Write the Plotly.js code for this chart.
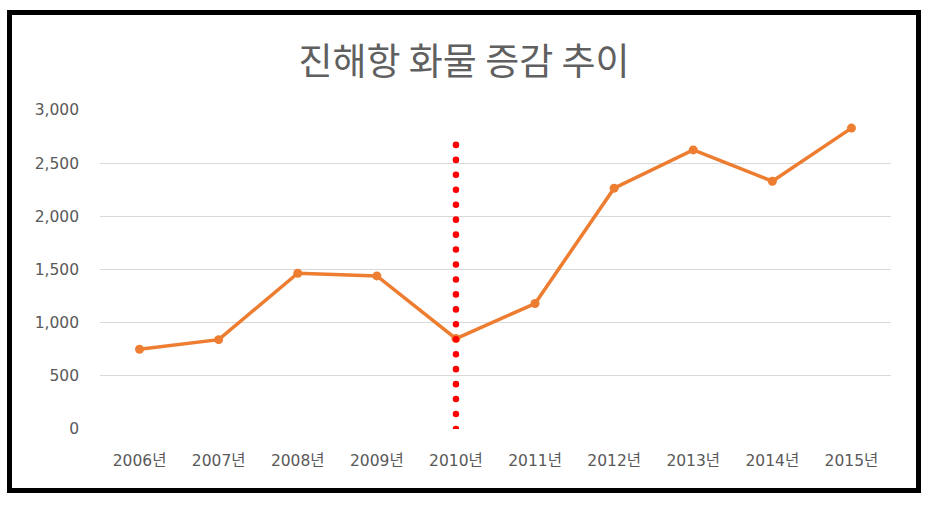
<!DOCTYPE html>
<html>
<head>
<meta charset="utf-8">
<script src="https://cdn.plot.ly/plotly-3.0.1.min.js"></script>
<style>
html,body{margin:0;padding:0;background:#fff;width:934px;height:511px;overflow:hidden;}
#frame{position:absolute;left:7px;top:10px;width:904px;height:473px;border:5px solid #000;background:#fff;}
#chart{width:904px;height:473px;}
</style>
</head>
<body>
<div id="frame"><div id="chart"></div></div>
<script>
const categories = ['2006년','2007년','2008년','2009년','2010년','2011년','2012년','2013년','2014년','2015년'];
const cargo = [750, 840, 1465, 1440, 850, 1180, 2265, 2625, 2330, 2830];
const yTicks = [0, 500, 1000, 1500, 2000, 2500, 3000];
const markerCategory = '2010년';
const markerTop = 2700;
const titleText = '진해항 화물 증감 추이';

const cjk = '"Noto Sans CJK KR", "Noto Sans", sans-serif';
const tickFontFamily = '"DejaVu Sans", "Noto Sans CJK KR", sans-serif';

const trace = {
  x: categories,
  y: cargo,
  type: 'scatter',
  mode: 'lines+markers',
  line: {color: '#ED7D31', width: 3.5},
  marker: {color: '#ED7D31', size: 9},
  hoverinfo: 'x+y',
  showlegend: false
};

const layout = {
  width: 904, height: 473,
  margin: {l: 88, r: 25, t: 95, b: 59},
  paper_bgcolor: '#fff', plot_bgcolor: '#fff',
  title: {text: titleText, font: {family: cjk, size: 37, color: '#606060'}, x: 0.5, xanchor: 'center', y: 0.9, yanchor: 'middle'},
  xaxis: {
    type: 'category', range: [-0.5, 9.5],
    tickfont: {family: tickFontFamily, size: 15.5, color: '#595959'},
    showgrid: false, showline: false, ticks: '', zeroline: false, fixedrange: true,
    ticklabelstandoff: 20
  },
  yaxis: {
    range: [0, 3000], tickvals: yTicks, tickformat: ',',
    tickfont: {family: tickFontFamily, size: 15.5, color: '#595959'},
    showgrid: true, gridcolor: '#D9D9D9', gridwidth: 1, zeroline: false,
    showline: false, ticks: '', ticklen: 0, ticklabelstandoff: 20, fixedrange: true
  },
  shapes: [{
    type: 'line', xref: 'x', yref: 'y',
    x0: markerCategory, x1: markerCategory, y0: 0, y1: markerTop,
    line: {color: '#FF0000', width: 6.5, dash: '6px,9px'}
  }]
};

Plotly.newPlot('chart', [trace], layout, {displayModeBar: false, staticPlot: true}).then(function(){
  document.querySelectorAll('#chart .shapelayer path').forEach(function(p){
    p.style.strokeLinecap = 'round';
    p.style.strokeDasharray = '0.1px,14.85px';
  });
});
</script>
</body>
</html>
